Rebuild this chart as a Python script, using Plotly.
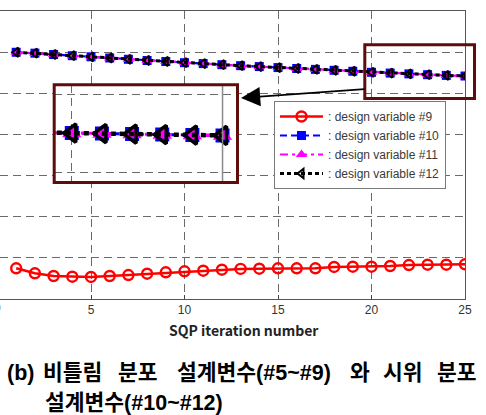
import plotly.graph_objects as go

# SQP iteration index
iterations = list(range(1, 26))

# design variable #9 (twist distribution)
dv9 = [0.746, 0.625, 0.559, 0.542, 0.535, 0.559, 0.583, 0.615, 0.649, 0.673,
       0.688, 0.712, 0.732, 0.737, 0.746, 0.746, 0.746, 0.778, 0.785, 0.785,
       0.802, 0.826, 0.834, 0.834, 0.843]

# design variables #10-#12 (chord distribution), nearly coincident
dv10 = [5.997, 5.975, 5.943, 5.914, 5.887, 5.858, 5.826, 5.797, 5.773, 5.744,
        5.722, 5.695, 5.671, 5.649, 5.625, 5.603, 5.581, 5.559, 5.535, 5.510,
        5.491, 5.472, 5.452, 5.435, 5.420]
dv11 = [5.997, 5.975, 5.943, 5.914, 5.887, 5.858, 5.826, 5.797, 5.773, 5.744,
        5.722, 5.695, 5.671, 5.649, 5.625, 5.603, 5.581, 5.559, 5.535, 5.510,
        5.491, 5.472, 5.452, 5.435, 5.420]
dv12 = [5.997, 5.975, 5.943, 5.914, 5.887, 5.858, 5.826, 5.797, 5.773, 5.744,
        5.722, 5.695, 5.671, 5.649, 5.625, 5.603, 5.581, 5.559, 5.535, 5.510,
        5.491, 5.472, 5.452, 5.435, 5.420]

x_ticks = [5, 10, 15, 20, 25]
legend_names = [": design variable #9", ": design variable #10",
                ": design variable #11", ": design variable #12"]

# canvas / plot-area geometry (pixels)
W, H = 486, 415
PL, PR, PT, PB = 0, 465, 11, 299


def px_x(p):
    return (p - PL) / (PR - PL)


def px_y(p):
    return (PB - p) / (PB - PT)


MAROON = "#5e0c0c"
GRID = "#6a6a6a"
TICKFONT = dict(family="Liberation Sans, Arial", size=12, color="#333333")

fig = go.Figure()

styles = [
    dict(color="#ff0000", dash="solid", width=2.5,
         marker=dict(symbol="circle-open", size=10, color="#ff0000",
                     line=dict(width=2.4, color="#ff0000"))),
    dict(color="#0000ff", dash="7px,4px", width=2.2,
         marker=dict(symbol="square", size=9, color="#0000ff")),
    dict(color="#ff00ff", dash="8px,4px,3px,4px", width=2.2,
         marker=dict(symbol="triangle-up", size=10, color="#ff00ff")),
    dict(color="#000000", dash="4px,3px", width=3,
         marker=dict(symbol="triangle-left-open", size=8, color="#000000",
                     line=dict(width=2, color="#000000"))),
]

series = [dv9, dv10, dv11, dv12]
for ys, name, st in zip(series, legend_names, styles):
    fig.add_trace(go.Scatter(
        x=iterations, y=ys, name=name, mode="lines+markers",
        line=dict(color=st["color"], dash=st["dash"], width=st["width"]),
        marker=st["marker"], xaxis="x", yaxis="y"))

# magnified view of the last iterations
inset_styles = [
    dict(color="#0000ff", dash="7px,4px", width=3,
         marker=dict(symbol="square", size=14, color="#0000ff")),
    dict(color="#ff00ff", dash="8px,4px,3px,4px", width=3,
         marker=dict(symbol="triangle-up", size=17, color="#ff00ff")),
    dict(color="#000000", dash="5px,4px", width=4.5,
         marker=dict(symbol="triangle-left-open", size=16, color="#000000",
                     line=dict(width=3.5, color="#000000"))),
]
for ys, st in zip(series[1:], inset_styles):
    fig.add_trace(go.Scatter(
        x=iterations, y=ys, mode="lines+markers", showlegend=False,
        line=dict(color=st["color"], dash=st["dash"], width=st["width"]),
        marker=st["marker"], xaxis="x2", yaxis="y2", hoverinfo="skip"))

# main axes range: x=0 sits just left of the visible area
x0 = 25 - (PR - PL) / ((PR + 2.5) / 25)

inset_x = (54, 237)
inset_y = (85, 182.5)

fig.update_layout(
    width=W, height=H,
    margin=dict(l=PL, r=W - PR, t=PT, b=H - PB),
    paper_bgcolor="white", plot_bgcolor="white",
    showlegend=True,
    xaxis=dict(range=[x0, 25], tickvals=x_ticks, ticktext=[str(v) for v in x_ticks],
               showgrid=True, gridcolor=GRID, griddash="8px,5px", gridwidth=1,
               zeroline=False, showline=True, linecolor="#555555", linewidth=1,
               mirror=True, ticks="inside", ticklen=4, tickcolor="#444444",
               tickfont=TICKFONT),
    yaxis=dict(range=[0, 7], dtick=1, showgrid=True, gridcolor=GRID,
               griddash="8px,5px", gridwidth=1, zeroline=False,
               showticklabels=False, showline=True, side="right",
               linecolor="#555555", linewidth=1, ticks=""),
    xaxis2=dict(domain=[px_x(inset_x[0]), px_x(inset_x[1])], anchor="y2",
                range=[19.41, 25.48], tickvals=[20], showgrid=True,
                gridcolor=GRID, griddash="8px,5px", zeroline=False,
                showticklabels=False, ticks="", showline=False),
    yaxis2=dict(domain=[px_y(inset_y[1]), px_y(inset_y[0])], anchor="x2",
                range=[3.626, 7.343], tickvals=[4, 7], showgrid=True,
                gridcolor=GRID, griddash="8px,5px", zeroline=False,
                showticklabels=False, ticks="", showline=False),
    legend=dict(x=px_x(274), y=px_y(101), xanchor="left", yanchor="top",
                bgcolor="white", bordercolor="#7a7a7a", borderwidth=1,
                font=dict(family="Liberation Sans, Arial", size=12, color="#3a3a3a"),
                itemwidth=43, tracegroupgap=0),
)

shapes = [
    # right border of the magnified panel (x = 25)
    dict(type="line", xref="x2", yref="y2 domain", x0=25, x1=25, y0=0, y1=1,
         line=dict(color="#8a8a8a", width=1.5)),
    # frame of the magnified panel
    dict(type="rect", xref="paper", yref="paper",
         x0=px_x(54.2), x1=px_x(237.5), y0=px_y(182.5), y1=px_y(84.8),
         line=dict(color=MAROON, width=3)),
    # region that is magnified
    dict(type="rect", xref="paper", yref="paper",
         x0=px_x(364.8), x1=px_x(474.5), y0=px_y(98.5), y1=px_y(44.8),
         line=dict(color=MAROON, width=3)),
]
fig.update_layout(shapes=shapes)

annotations = [
    # arrow from the highlighted region to the magnified panel
    dict(xref="paper", yref="paper", x=px_x(241), y=px_y(98), ax=125, ay=-9,
         axref="pixel", ayref="pixel", text="", showarrow=True,
         arrowhead=2, arrowsize=2.4, arrowwidth=1.6, arrowcolor="black"),
    # x=0 tick label, mostly cut at the left edge
    dict(xref="paper", yref="paper", x=px_x(-2.5), y=px_y(308), text="0",
         showarrow=False, xanchor="center", yanchor="middle", font=TICKFONT),
    # axis title
    dict(xref="paper", yref="paper", x=px_x(244), y=px_y(330),
         text="SQP iteration number", showarrow=False, xanchor="center",
         yanchor="middle",
         font=dict(family="Noto Sans CJK KR", size=14, color="#222222", weight="bold")),
]

# two-line justified caption, laid out word by word
CAPTION_FONT = dict(family="Liberation Sans, Noto Sans CJK KR", size=21.5,
                    color="black", weight="bold")
caption_words = [
    # (text, x position, anchor, line y)
    ("(b)", 6, "left", 373),
    ("비틀림", 42, "left", 373),
    ("분포", 117, "left", 373),
    ("설계변수(#5~#9)", 254, "center", 373),
    ("와", 360, "center", 373),
    ("시위", 403, "center", 373),
    ("분포", 457, "center", 373),
    ("설계변수(#10~#12)", 134, "center", 403),
]
for word, xp, anchor, yp in caption_words:
    annotations.append(dict(xref="paper", yref="paper", x=px_x(xp), y=px_y(yp),
                            text=word, showarrow=False, xanchor=anchor,
                            yanchor="middle", font=CAPTION_FONT, borderpad=0))

fig.update_layout(annotations=annotations)

fig.write_html("out.html")
